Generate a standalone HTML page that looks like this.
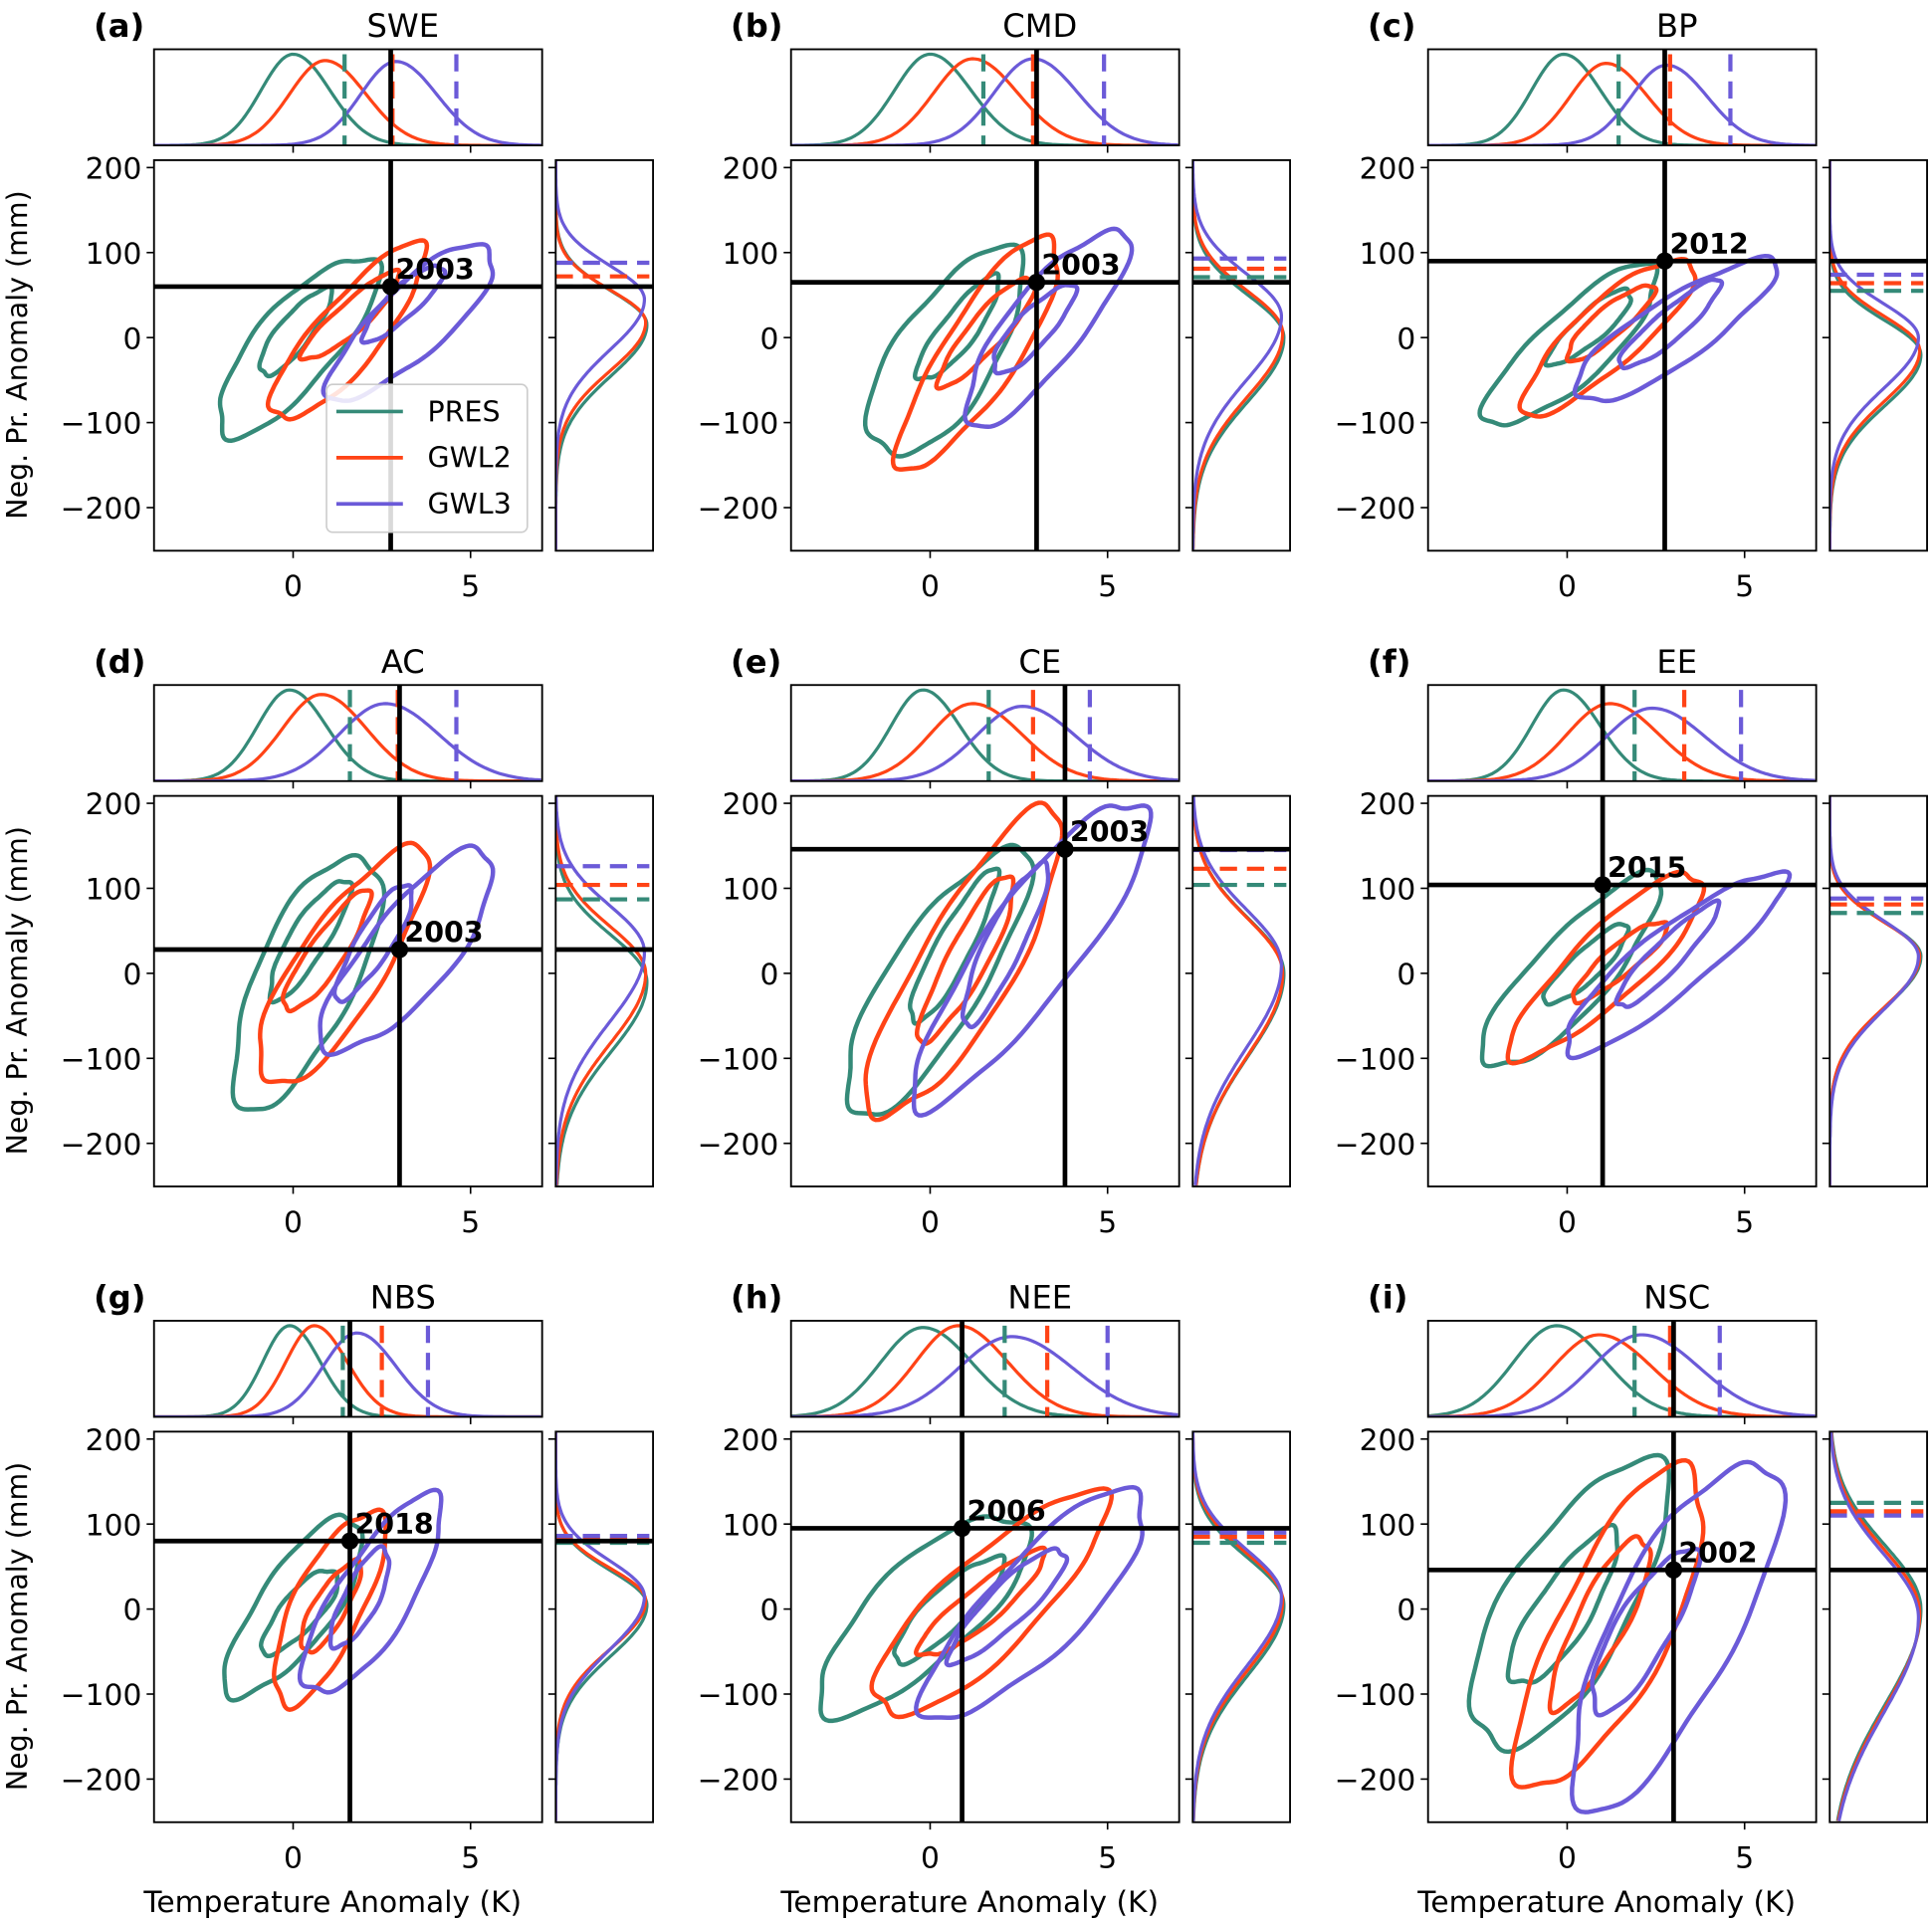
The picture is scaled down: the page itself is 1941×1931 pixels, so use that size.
<!DOCTYPE html>
<html><head><meta charset="utf-8">
<style>html,body{margin:0;padding:0;background:#fff}svg{display:block}</style>
</head><body>
<svg id="s" xmlns="http://www.w3.org/2000/svg" width="1941" height="1931" viewBox="0 0 1568 1560" preserveAspectRatio="none" font-family="'DejaVu Sans','Liberation Sans',sans-serif"></svg>
<script>
const TE='#358a78',OR='#ff4316',PU='#6b5ad8',COL=[TE,OR,PU];
const cols=[125,642,1159],rows=[130,646,1162];
const P=[
{t:'SWE',l:'(a)',T:2.75,Pb:60,y:'2003',top:[[0,0.9,1],[0.9,1.0,0.93],[2.9,1.0,0.92]],dT:[1.45,2.8,4.6],rt:[[15,40],[18,38],[45,40]],dP:[60,72,88],
c:[[[-2.0,-110,2.2,92,32],[-0.9,-43,1.0,56,13]],[[-0.5,-96,3.6,106,26],[0.3,-25,3.0,75,12]],[[1.1,-68,5.6,106,28],[2.0,-2,4.2,84,12]]]},
{t:'CMD',l:'(b)',T:3.0,Pb:65,y:'2003',top:[[0,1.0,1],[1.2,1.1,0.95],[2.9,1.1,0.95]],dT:[1.5,2.9,4.9],rt:[[0,50],[5,50],[25,50]],dP:[71,81,93],
c:[[[-1.4,-136,2.3,100,40],[-0.3,-50,1.9,70,14]],[[-0.7,-153,3.5,118,30],[0.3,-55,2.9,70,14]],[[1.1,-100,5.4,125,30],[1.8,-40,4.0,60,14]]]},
{t:'BP',l:'(c)',T:2.75,Pb:90,y:'2012',top:[[-0.1,0.9,1],[1.1,1.0,0.9],[2.8,1.0,0.88]],dT:[1.45,2.9,4.6],rt:[[-20,40],[-15,40],[0,40]],dP:[55,64,74],
c:[[[-2.2,-100,2.5,80,28],[-0.5,-30,1.8,55,12]],[[-1.2,-85,3.5,90,26],[0,-25,2.4,60,12]],[[0.2,-70,5.8,85,26],[1.5,-35,4.3,65,12]]]},
{t:'AC',l:'(d)',T:3.0,Pb:28,y:'2003',top:[[-0.1,0.9,1],[0.8,1.1,0.95],[2.6,1.3,0.85]],dT:[1.6,2.95,4.6],rt:[[-10,55],[0,55],[25,55]],dP:[87,104,126],
c:[[[-1.3,-155,2,140,40],[-0.6,-30,1.5,110,15]],[[-0.8,-130,3.5,145,35],[-0.2,-45,2.1,95,14]],[[1.0,-90,5.5,140,34],[1.3,-30,3.3,105,14]]]},
{t:'CE',l:'(e)',T:3.8,Pb:146,y:'2003',top:[[-0.2,0.9,1],[1.2,1.2,0.85],[2.6,1.3,0.82]],dT:[1.65,2.9,4.5],rt:[[0,65],[0,65],[10,65]],dP:[104,123,145],
c:[[[-2.2,-165,2.5,145,38],[-0.5,-60,1.8,120,14]],[[-1.5,-170,3.5,190,38],[-0.2,-80,2.3,115,16]],[[-0.3,-150,6,205,38],[1,-60,3.2,130,15]]]},
{t:'EE',l:'(f)',T:1.0,Pb:104,y:'2015',top:[[-0.1,0.9,1],[1.2,1.2,0.85],[2.4,1.3,0.8]],dT:[1.9,3.3,4.9],rt:[[20,40],[20,40],[20,42]],dP:[71,81,88],
c:[[[-2.3,-110,2.5,110,30],[-0.6,-35,1.7,55,12]],[[-1.5,-95,3.8,115,28],[0.2,-30,2.8,60,12]],[[-0.1,-90,6,115,26],[1.4,-40,4.2,80,12]]]},
{t:'NBS',l:'(g)',T:1.6,Pb:80,y:'2018',top:[[-0.1,0.75,1],[0.6,0.8,1],[1.8,0.95,0.92]],dT:[1.4,2.5,3.8],rt:[[5,40],[10,38],[15,42]],dP:[78,82,86],
c:[[[-1.7,-100,1.8,105,30],[-0.8,-50,1.2,45,15]],[[-0.3,-110,2.3,115,28],[0.3,-50,1.8,55,13]],[[0.5,-100,4,130,30],[1.2,-45,2.6,70,14]]]},
{t:'NEE',l:'(h)',T:0.9,Pb:95,y:'2006',top:[[-0.2,1.2,0.98],[0.8,1.2,1],[2.3,1.5,0.88]],dT:[2.1,3.3,5.0],rt:[[5,55],[10,55],[15,55]],dP:[78,85,90],
c:[[[-3,-115,2.6,105,40],[-1,-60,2,60,16]],[[-1.5,-120,4.8,130,38],[-0.3,-55,3.2,65,15]],[[0,-125,6,135,38],[0.6,-60,3.8,70,16]]]},
{t:'NSC',l:'(i)',T:3.0,Pb:46,y:'2002',top:[[-0.3,1.2,1],[0.9,1.3,0.9],[2.1,1.4,0.9]],dT:[1.9,2.9,4.3],rt:[[0,75],[-5,75],[-10,75]],dP:[125,115,110],
c:[[[-2.3,-160,2.4,170,50],[-1.5,-90,1.3,90,22]],[[-1.0,-210,3.5,165,45],[-0.3,-115,2.2,85,20]],[[0.5,-230,5.5,175,50],[0.8,-120,3.5,70,22]]]}
];
let o='';
function ln(x1,y1,x2,y2,c,w,d){o+=`<line x1="${x1}" y1="${y1}" x2="${x2}" y2="${y2}" stroke="${c}" stroke-width="${w}"${d?` stroke-dasharray="${d}"`:''}/>`;}
function tx(x,y,s,sz,a,extra){o+=`<text x="${x}" y="${y}" font-size="${sz}" text-anchor="${a||'middle'}" ${extra||''}>${s}</text>`;}
function pl(pts,c,w,close){o+=`<path d="M${pts.map(p=>p[0].toFixed(1)+' '+p[1].toFixed(1)).join('L')}${close?'Z':''}" fill="none" stroke="${c}" stroke-width="${w}" stroke-linejoin="round"/>`;}
P.forEach((p,i)=>{
 const x0=cols[i%3],y0=rows[Math.floor(i/3)],W=315,H=317;
 const X=T=>x0+(T+3.92)*28.8, Y=v=>y0+(208.7-v)*0.69;
 const clipId='c'+i;
 o+=`<defs><clipPath id="${clipId}"><rect x="${x0}" y="${y0}" width="${W}" height="${H}"/></clipPath><clipPath id="t${clipId}"><rect x="${x0}" y="${y0-90}" width="${W}" height="78"/></clipPath><clipPath id="r${clipId}"><rect x="${x0+326}" y="${y0}" width="79" height="${H}"/></clipPath></defs>`;
 o+=`<g clip-path="url(#${clipId})">`;
 p.c.forEach((ser,si)=>ser.forEach((e,k)=>{
  const ax=X(e[0]),ay=Y(e[1]),bx=X(e[2]),by=Y(e[3]);
  const cx=(ax+bx)/2,cy=(ay+by)/2,a=Math.hypot(bx-ax,by-ay)/2,b=e[4],an=Math.atan2(by-ay,bx-ax);
  const pts=[];const s1=i*1.7+si*2.3+k,s2=i*0.9+si*1.3+k*2;
  for(let j=0;j<=120;j++){const th=j/120*2*Math.PI;const f=1+0.05*Math.sin(3*th+s1)+0.03*Math.sin(7*th+s2);
   const u=a*Math.cos(th)*f,v=b*Math.sin(th)*f;pts.push([cx+u*Math.cos(an)-v*Math.sin(an),cy+u*Math.sin(an)+v*Math.cos(an)]);}
  pl(pts,COL[si],3.6,true);
 }));
 ln(X(p.T),y0,X(p.T),y0+H,'#000',3.8);ln(x0,Y(p.Pb),x0+W,Y(p.Pb),'#000',3.8);
 o+=`</g>`;
 o+=`<circle cx="${X(p.T)}" cy="${Y(p.Pb)}" r="7" fill="#000"/>`;
 tx(X(p.T)+4,Y(p.Pb)-6,p.y,23,'start','font-weight="bold"');
 o+=`<g clip-path="url(#t${clipId})">`;
 const tb=y0-12,th=74;
 p.top.forEach((g,si)=>{const pts=[];for(let x=x0;x<=x0+W;x+=2){const T=(x-x0)/28.8-3.92;const sd=T>g[0]?g[1]*1.15:g[1];pts.push([x,tb-th*g[2]*Math.exp(-0.5*((T-g[0])/sd)**2)]);}pl(pts,COL[si],2.6);});
 p.dT.forEach((d,si)=>ln(X(d),y0-86,X(d),tb,COL[si],3.4,'14 8'));
 ln(X(p.T),y0-90,X(p.T),tb,'#000',3.8);
 o+=`</g>`;
 const rx0=x0+326;
 o+=`<g clip-path="url(#r${clipId})">`;
 p.rt.forEach((g,si)=>{const pts=[];for(let y=y0;y<=y0+H;y+=2){const v=208.7-(y-y0)/0.69;const sd=v<g[0]?g[1]*1.5:g[1];const amp=[74,73,72][si];pts.push([rx0+amp*Math.exp(-0.5*((v-g[0])/sd)**2),y]);}pl(pts,COL[si],2.6);});
 p.dP.forEach((d,si)=>ln(rx0,Y(d),rx0+76,Y(d),COL[si],3.4,'14 8'));
 ln(rx0,Y(p.Pb),rx0+79,Y(p.Pb),'#000',3.8);
 o+=`</g>`;
 o+=`<rect x="${x0}" y="${y0}" width="${W}" height="${H}" fill="none" stroke="#000" stroke-width="1.5"/>`;
 o+=`<rect x="${x0}" y="${y0-90}" width="${W}" height="78" fill="none" stroke="#000" stroke-width="1.5"/>`;
 o+=`<rect x="${rx0}" y="${y0}" width="79" height="${H}" fill="none" stroke="#000" stroke-width="1.5"/>`;
 [0,5].forEach(T=>{ln(X(T),y0+H,X(T),y0+H+6,'#000',1.3);ln(X(T),tb,X(T),tb+6,'#000',1.3);tx(X(T),y0+H+37,T,24);});
 [200,100,0,-100,-200].forEach(v=>{ln(x0-6,Y(v),x0,Y(v),'#000',1.3);ln(rx0-6,Y(v),rx0,Y(v),'#000',1.3);tx(x0-10,Y(v)+9,v<0?'\u2212'+(-v):v,24,'end');});
 tx(x0+202,y0-100,p.t,26);
 tx(x0-49,y0-100,p.l,26,'start','font-weight="bold"');
 if(i%3==0) tx(0,0,'Neg. Pr. Anomaly (mm)',23,'middle',`transform="translate(22,${y0+158}) rotate(-90)"`);
 if(i>=6) tx(x0+145,1552,'Temperature Anomaly (K)',24);
});
o+=`<rect x="265" y="312" width="163" height="120" rx="5" fill="#fff" fill-opacity="0.85" stroke="#ccc" stroke-width="1.3"/>`;
['PRES','GWL2','GWL3'].forEach((n,k)=>{const y=334+k*37.5;ln(273,y,327,y,COL[k],3);tx(347,y+8,n,23,'start');});
document.getElementById('s').innerHTML=o;
</script>
</body></html>
